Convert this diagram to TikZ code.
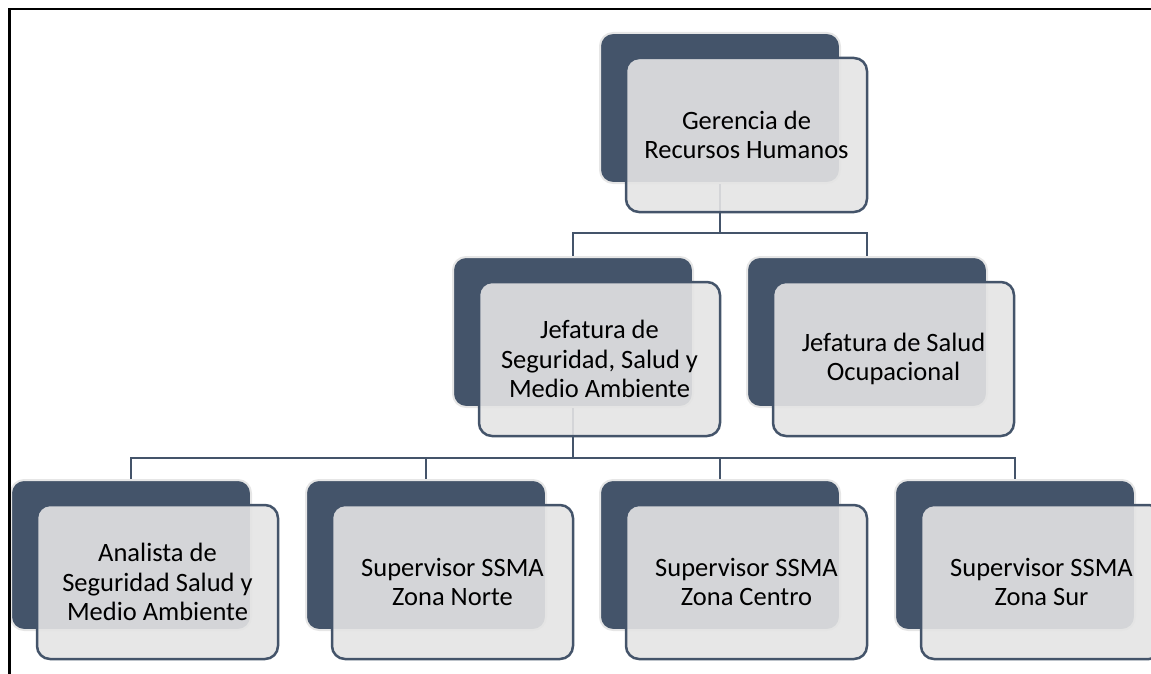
\documentclass[tikz,border=0pt]{standalone}
\usepackage{fontspec}
\setmainfont{Carlito}
\usetikzlibrary{positioning}
\definecolor{slate}{HTML}{44546A}
\definecolor{paleedge}{HTML}{E6E6E6}
\definecolor{cardfill}{HTML}{E4E4E4}

\begin{document}
\begin{tikzpicture}[x=1pt, y=-1pt,
    backbox/.style={rounded corners=13pt, minimum width=240pt, minimum height=150pt, fill=slate, draw=paleedge, line width=2pt},
    frontbox/.style={rounded corners=13pt, minimum width=241pt, minimum height=154pt, fill=cardfill, fill opacity=0.9, text opacity=1, draw=slate, line width=2.5pt, align=center, font=\fontsize{26.5}{29.5}\selectfont, xshift=26.5pt, yshift=-27pt},
    conn/.style={draw=slate, line width=2.5pt}
]
    \useasboundingbox (0,0) rectangle (1151,674);

    % back cards
    \node[backbox] (ger) at (720,108) {};
    \node[backbox] (jssma) at (573,332) {};
    \node[backbox] (jsalud) at (867,332) {};
    \foreach \n/\x in {ana/131, norte/426, centro/720, sur/1015}
        \node[backbox] (\n) at (\x,555) {};

    % connectors
    \foreach \n in {jssma, jsalud}
        \draw[conn] (ger.south) -- ++(0,49) -| (\n.north);
    \foreach \n in {ana, norte, centro, sur}
        \draw[conn] (jssma.south) -- ++(0,50) -| (\n.north);

    % front cards
    \node[frontbox] (gerf) at (ger) {Gerencia de\\Recursos Humanos};
    \node[frontbox] (jssmaf) at (jssma) {Jefatura de\\Seguridad, Salud y\\Medio Ambiente};
    \node[frontbox] (jsaludf) at (jsalud) {Jefatura de Salud\\Ocupacional};
    \node[frontbox] (anaf) at (ana) {Analista de\\Seguridad Salud y\\Medio Ambiente};
    \node[frontbox] (nortef) at (norte) {Supervisor SSMA\\Zona Norte};
    \node[frontbox] (centrof) at (centro) {Supervisor SSMA\\Zona Centro};
    \node[frontbox] (surf) at (sur) {Supervisor SSMA\\Zona Sur};

    \draw[line width=2.5pt] (9.5,674) -- (9.5,9) -- (1151,9);
\end{tikzpicture}
\end{document}
